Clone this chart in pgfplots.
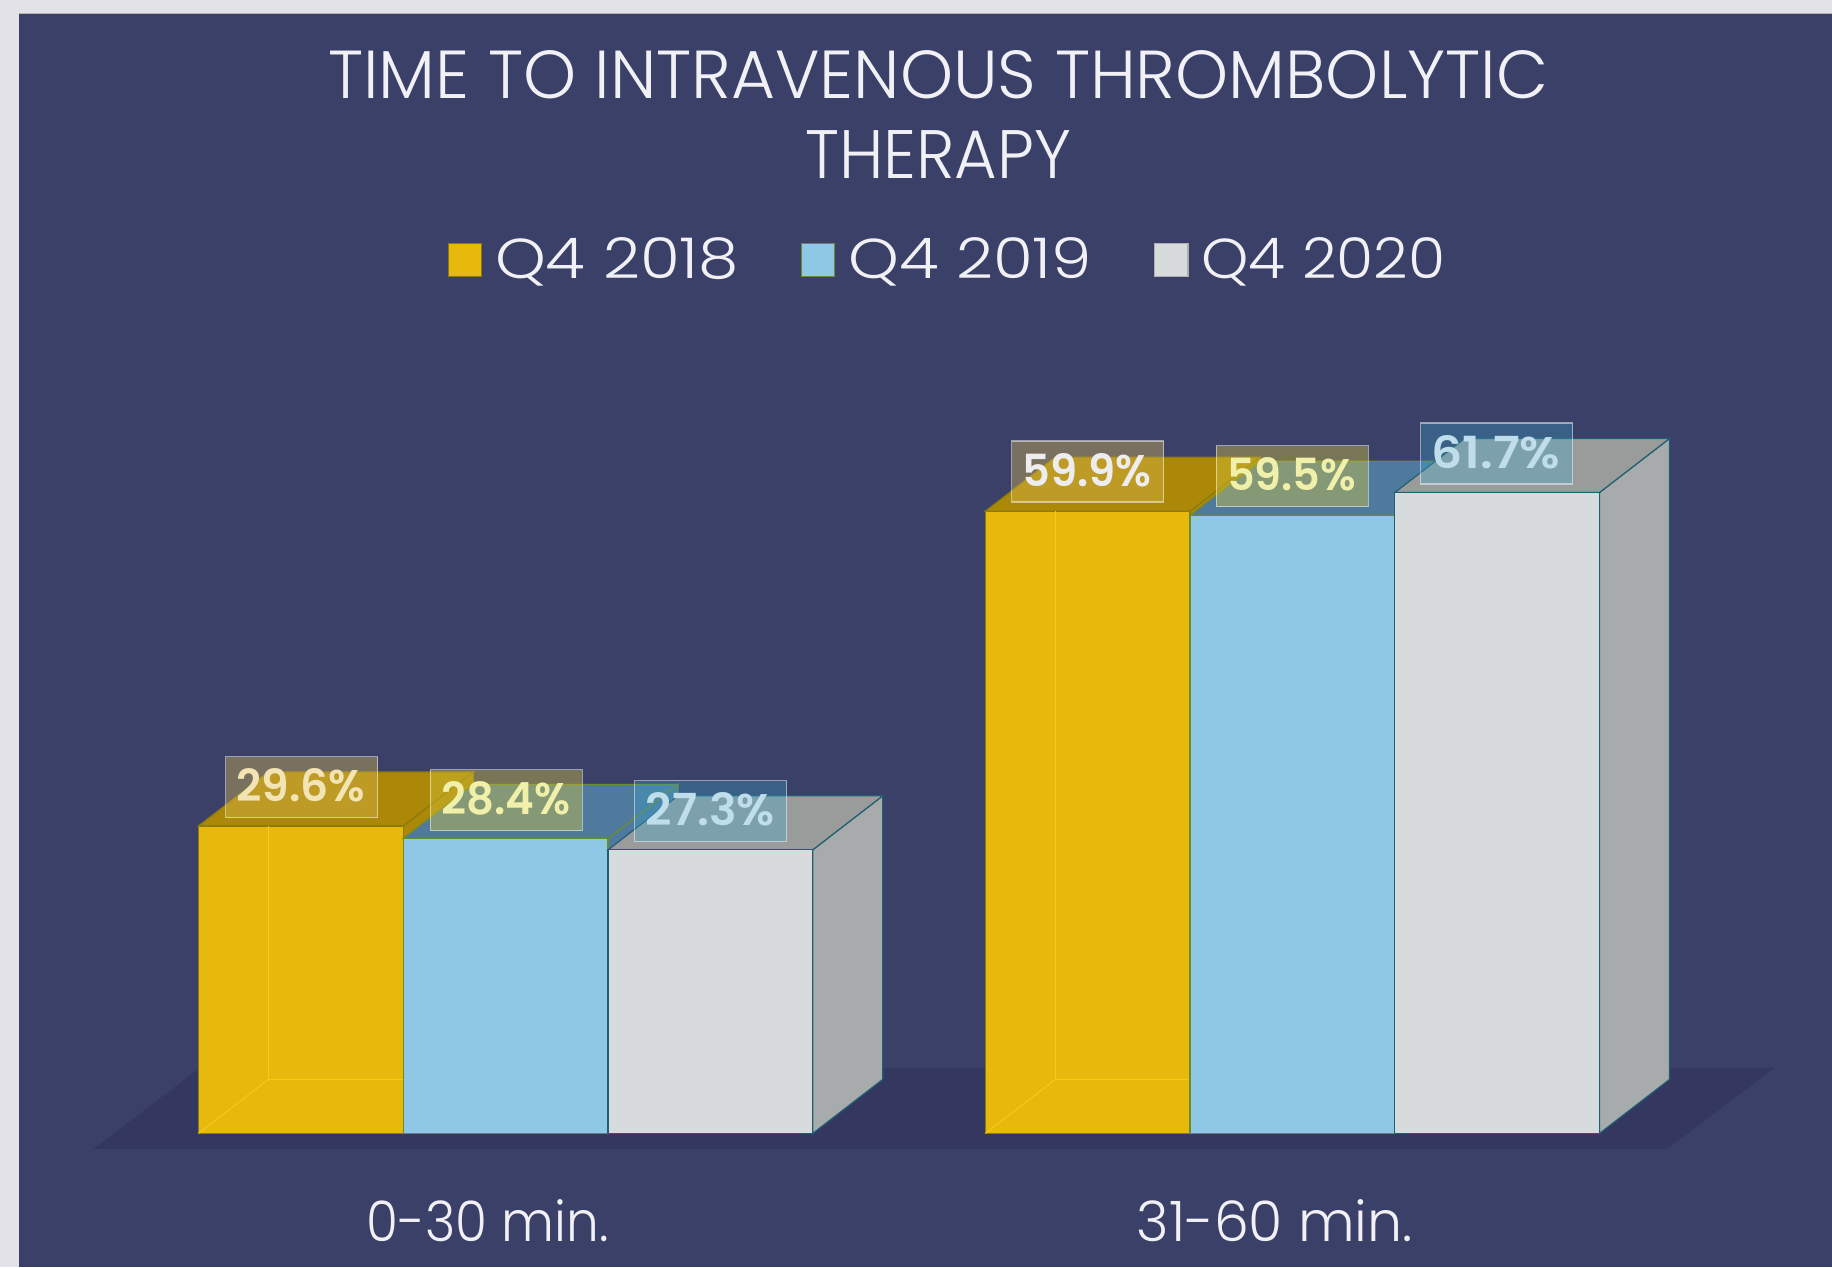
\documentclass[border=0pt]{standalone}
\usepackage{pgfplots}
\pgfplotsset{compat=1.18}
\usepackage{fontspec}
\setmainfont{Poppins}[UprightFont=* Light,BoldFont=* SemiBold]
\definecolor{bg}{HTML}{3B4069}
\definecolor{pagec}{HTML}{E3E2E8}
\definecolor{floorc}{HTML}{343860}
\definecolor{txt}{HTML}{F1F0F4}
\definecolor{yf}{HTML}{E6B90C}
\definecolor{yt}{HTML}{AC8808}
\definecolor{ye}{HTML}{8C7A0A}
\definecolor{yi}{HTML}{F6CC12}
\definecolor{bf}{HTML}{8FC8E4}
\definecolor{bt}{HTML}{4F7A9E}
\definecolor{be}{HTML}{6E8A30}
\definecolor{wf}{HTML}{D8DBDC}
\definecolor{wt}{HTML}{9A9C9C}
\definecolor{ws}{HTML}{A8ABAB}
\definecolor{we}{HTML}{1F5F73}
\definecolor{la}{HTML}{F2E4B4}
\definecolor{lb}{HTML}{F1F0AA}
\definecolor{lc}{HTML}{BFDDEA}
\definecolor{ld}{HTML}{EDEDF0}
\definecolor{boxa}{HTML}{D8B951}
\definecolor{boxb}{HTML}{D8C83C}
\definecolor{boxc}{HTML}{38AAD2}
\newcommand{\fit}[3]{\resizebox{#1pt}{#2pt}{#3}}
% x0, top (pixels), value text, text colour, box colour, box opacity
\newcommand{\lab}[6]{%
  \draw[draw=white,draw opacity=.5,line width=.6pt,fill=#5,fill opacity=#6]
    (axis cs:#1,{(1133.5-#2)/10.39}) rectangle (axis cs:{#1+152},{(1133.5-#2-61)/10.39});
  \node[anchor=base west,inner sep=0pt,text=#4] at (axis cs:{#1+10.5},{(1133.5-#2-45)/10.39})
    {\fit{64.5}{16.5}{\bfseries #3\%}};}
\begin{document}
\begin{tikzpicture}
\fill[pagec] (0,0) rectangle (916pt,633.5pt);
\fill[bg] (9.5pt,0) rectangle (916pt,627pt);
\draw[color=black!30,line width=.5pt] (9.5pt,627pt) -- (916pt,627pt);
\begin{axis}[
  at={(0,0)},anchor=south west,
  width=916pt,height=633.5pt,scale only axis,
  xmin=0,xmax=1832,ymin=-12.849,ymax=109.095,
  axis line style={draw=none},
  major tick length=0pt,
  ytick=\empty,
  xtick={488,1275},
  xticklabels={{\fit{121}{21}{0-30 min.}},{\fit{138}{21}{31-60 min.}}},
  xticklabel style={anchor=base,yshift=12.5pt,inner sep=0pt,text=txt},
  title={\fit{610}{24}{TIME TO INTRAVENOUS THROMBOLYTIC}\\\fit{133}{24}{THERAPY}},
  title style={at={(axis cs:938.5,{(1133.5-62.4)/10.39})},anchor=north,align=center,inner sep=0pt,text=txt,
     font=\fontsize{20}{40}\selectfont},
  legend columns=3,
  legend style={at={(axis cs:448,{(1133.5-259.6)/10.39})},anchor=west,draw=none,fill=none,text=txt,inner sep=0pt,outer sep=0pt,
     nodes={inner sep=0pt},
     /tikz/every even column/.append style={column sep=31pt},
     /tikz/every odd column/.append style={column sep=6.4pt}},
  ]
% floor
\addplot[draw=none,fill=floorc,forget plot] coordinates {(93.5,-1.49)(1668,-1.49)(1775,6.30)(200,6.30)} --cycle;

% Q4 2018
\addplot[draw=ye,fill=yt,line width=.6pt,forget plot] coordinates {(403.4,29.6)(473.4,34.8)(473.4,5.2)(403.4,0)} --cycle;
\addplot[draw=ye,fill=yt,line width=.6pt,forget plot] coordinates {(198.6,29.6)(403.4,29.6)(473.4,34.8)(268.6,34.8)} --cycle;
\addplot[draw=ye,fill=yt,line width=.6pt,forget plot] coordinates {(1190.4,59.9)(1260.4,65.1)(1260.4,5.2)(1190.4,0)} --cycle;
\addplot[draw=ye,fill=yt,line width=.6pt,forget plot] coordinates {(985.6,59.9)(1190.4,59.9)(1260.4,65.1)(1055.6,65.1)} --cycle;
\addplot[ybar,bar width=204.8,bar shift=0pt,fill=yf,draw=ye,line width=.6pt,
  legend image code/.code={\draw[fill=yf,draw=ye,line width=.6pt] (0pt,-8.3pt) rectangle (16.6pt,8.2pt);}]
  coordinates {(301,29.6)(1088,59.9)};
\addlegendentry{\fit{122}{20.5}{Q4 2018}}
\addplot[draw=yi,line width=.5pt,forget plot] coordinates {(268.6,29.6)(268.6,5.2)(403.4,5.2)};
\addplot[draw=yi,line width=.5pt,forget plot] coordinates {(198.6,0)(268.6,5.2)};
\addplot[draw=yi,line width=.5pt,forget plot] coordinates {(1055.6,59.9)(1055.6,5.2)(1190.4,5.2)};
\addplot[draw=yi,line width=.5pt,forget plot] coordinates {(985.6,0)(1055.6,5.2)};

% Q4 2019
\addplot[draw=be,fill=bt,line width=.6pt,forget plot] coordinates {(608.2,28.4)(678.2,33.6)(678.2,5.2)(608.2,0)} --cycle;
\addplot[draw=be,fill=bt,line width=.6pt,forget plot] coordinates {(403.4,28.4)(608.2,28.4)(678.2,33.6)(473.4,33.6)} --cycle;
\addplot[draw=be,fill=bt,line width=.6pt,forget plot] coordinates {(1395.2,59.5)(1465.2,64.7)(1465.2,5.2)(1395.2,0)} --cycle;
\addplot[draw=be,fill=bt,line width=.6pt,forget plot] coordinates {(1190.4,59.5)(1395.2,59.5)(1465.2,64.7)(1260.4,64.7)} --cycle;
\addplot[ybar,bar width=204.8,bar shift=0pt,fill=bf,draw=be,line width=.6pt,
  legend image code/.code={\draw[fill=bf,draw=be,line width=.6pt] (0pt,-8.3pt) rectangle (16.6pt,8.2pt);}]
  coordinates {(505.8,28.4)(1292.8,59.5)};
\addlegendentry{\fit{122}{20.5}{Q4 2019}}

% Q4 2020
\addplot[draw=we,fill=ws,line width=.6pt,forget plot] coordinates {(813,27.3)(883,32.5)(883,5.2)(813,0)} --cycle;
\addplot[draw=we,fill=wt,line width=.6pt,forget plot] coordinates {(608.2,27.3)(813,27.3)(883,32.5)(678.2,32.5)} --cycle;
\addplot[draw=we,fill=ws,line width=.6pt,forget plot] coordinates {(1600,61.7)(1670,66.9)(1670,5.2)(1600,0)} --cycle;
\addplot[draw=we,fill=wt,line width=.6pt,forget plot] coordinates {(1395.2,61.7)(1600,61.7)(1670,66.9)(1465.2,66.9)} --cycle;
\addplot[ybar,bar width=204.8,bar shift=0pt,fill=wf,draw=we,line width=.6pt,
  legend image code/.code={\draw[fill=wf,draw=wf!80!black,line width=.6pt] (0pt,-8.3pt) rectangle (16.6pt,8.2pt);}]
  coordinates {(710.6,27.3)(1497.6,61.7)};
\addlegendentry{\fit{122}{20.5}{Q4 2020}}

% value labels
\lab{225.6}{756.7}{29.6}{la}{boxa}{.4}
\lab{430.4}{769.7}{28.4}{lb}{boxb}{.4}
\lab{635}{780.7}{27.3}{lc}{boxc}{.3}
\lab{1012}{441}{59.9}{ld}{boxa}{.4}
\lab{1216.5}{445.7}{59.5}{lb}{boxb}{.4}
\lab{1421}{423}{61.7}{lc}{boxc}{.3}
\end{axis}
\end{tikzpicture}
\end{document}
